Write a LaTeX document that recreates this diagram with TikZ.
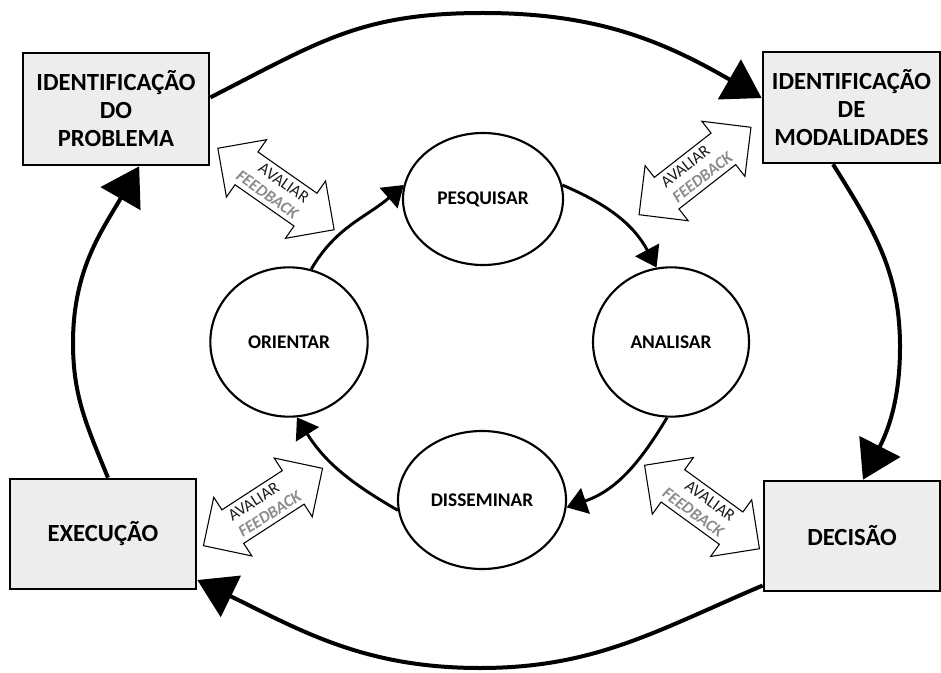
\documentclass[tikz,border=0pt]{standalone}
\usepackage{fontspec}
\setmainfont{Carlito}
\usetikzlibrary{arrows.meta,shapes.geometric}
\definecolor{boxfill}{HTML}{EDEDED}
\definecolor{fbgray}{HTML}{8C8C8C}
\definecolor{avtext}{HTML}{1A1A1A}
\begin{document}
\begin{tikzpicture}[x=0.75pt,y=-0.75pt,
  outerbox/.style={draw=black,line width=2pt,fill=boxfill,align=center,inner sep=0pt,
    font=\fontsize{18.5}{21}\selectfont\bfseries},
  cyclenode/.style={draw=black,line width=1.6pt,fill=white,ellipse,inner sep=0pt,
    font=\fontsize{14.5}{17}\selectfont\bfseries},
  outerlink/.style={line width=3pt,-{Triangle[length=28pt,width=34pt]}},
  innerlink/.style={line width=2.2pt,-{Triangle[length=15pt,width=20pt]}},
  fbshape/.style={draw=black,line width=0.8pt,fill=white,line join=miter},
  avlabel/.style={inner sep=0pt,text=avtext,font=\fontsize{12.5}{15}\selectfont},
  fblabel/.style={inner sep=0pt,text=fbgray,font=\fontsize{12.5}{15}\selectfont\bfseries\itshape}]
\useasboundingbox (0,0) rectangle (941,673);
\fill[white] (0,0) rectangle (941,673);

% corner boxes
\node[outerbox,minimum width=139.5pt,minimum height=84pt] (tl) at (116,109)
  {IDENTIFICAÇÃO\\DO\\PROBLEMA};
\node[outerbox,minimum width=132.75pt,minimum height=83.25pt] (tr) at (851.5,107.5)
  {IDENTIFICAÇÃO\\DE\\MODALIDADES};
\node[outerbox,minimum width=139.5pt,minimum height=82.5pt] (bl) at (103,534)
  {EXECUÇÃO};
\node[outerbox,minimum width=132pt,minimum height=82.5pt] (br) at (852,536)
  {DECISÃO};

% inner cycle
\node[cyclenode,minimum width=120pt,minimum height=99pt] (pesq) at (483,199) {PESQUISAR};
\node[cyclenode,minimum width=117pt,minimum height=112pt] (anal) at (671,342) {ANALISAR};
\node[cyclenode,minimum width=118pt,minimum height=112pt] (orie) at (289,342) {ORIENTAR};
\node[cyclenode,minimum width=126pt,minimum height=103.5pt] (diss) at (482,500) {DISSEMINAR};

% outer cycle helper points
\coordinate (topmid) at (483,13);
\coordinate (rightmid) at (900,347);
\coordinate (botmid) at (480,668);
\coordinate (leftmid) at (73,343);

\draw[outerlink] (tl.7) to[out=27,in=180,looseness=1.1] (topmid) to[out=0,in=150] (tr.174);
\draw[outerlink] (tr.252) to[out=-58,in=90] (rightmid) to[out=-90,in=63] (br.79);
\draw[outerlink] (br.209) to[out=-157,in=0] (botmid) to[out=180,in=-26] (bl.-26);
\draw[outerlink] (bl.85) to[out=112,in=-90] (leftmid) to[out=90,in=-120] (tl.-68);

% inner links
\draw[innerlink] (orie.73) to[out=60,in=-139] (pesq.170);
\draw[innerlink] (pesq.10) to[out=-23,in=118] (anal.101);
\draw[innerlink] (anal.267) to[out=-121,in=19] (diss.-5);
\draw[innerlink] (diss.187) to[out=150,in=-58] (orie.-84);

% feedback double arrows
\begin{scope}[shift={(276,189)},rotate=-35]
  \draw[fbshape] (-71,0) -- (-36,-35) -- (-36,-20) -- (36,-20) -- (36,-35) -- (71,0)
    -- (36,35) -- (36,20) -- (-36,20) -- (-36,35) -- cycle;
  \node[avlabel,rotate=-35] (av1) at (3,-9.5) {AVALIAR};
  \node[fblabel,rotate=-35] (fb1) at (-4,9.5) {FEEDBACK};
\end{scope}
\begin{scope}[shift={(695,171)},rotate=38]
  \draw[fbshape] (-71,0) -- (-36,-35) -- (-36,-20) -- (36,-20) -- (36,-35) -- (71,0)
    -- (36,35) -- (36,20) -- (-36,20) -- (-36,35) -- cycle;
  \node[avlabel,rotate=38] (av2) at (-5,-9.5) {AVALIAR};
  \node[fblabel,rotate=38] (fb2) at (2,9.5) {FEEDBACK};
\end{scope}
\begin{scope}[shift={(263,507)},rotate=33]
  \draw[fbshape] (-71,0) -- (-36,-35) -- (-36,-20) -- (36,-20) -- (36,-35) -- (71,0)
    -- (36,35) -- (36,20) -- (-36,20) -- (-36,35) -- cycle;
  \node[avlabel,rotate=33] (av3) at (-5,-9.5) {AVALIAR};
  \node[fblabel,rotate=33] (fb3) at (2,9.5) {FEEDBACK};
\end{scope}
\begin{scope}[shift={(702,507)},rotate=-36]
  \draw[fbshape] (-71,0) -- (-36,-35) -- (-36,-20) -- (36,-20) -- (36,-35) -- (71,0)
    -- (36,35) -- (36,20) -- (-36,20) -- (-36,35) -- cycle;
  \node[avlabel,rotate=-36] (av4) at (3,-9.5) {AVALIAR};
  \node[fblabel,rotate=-36] (fb4) at (-4,9.5) {FEEDBACK};
\end{scope}
\end{tikzpicture}
\end{document}
